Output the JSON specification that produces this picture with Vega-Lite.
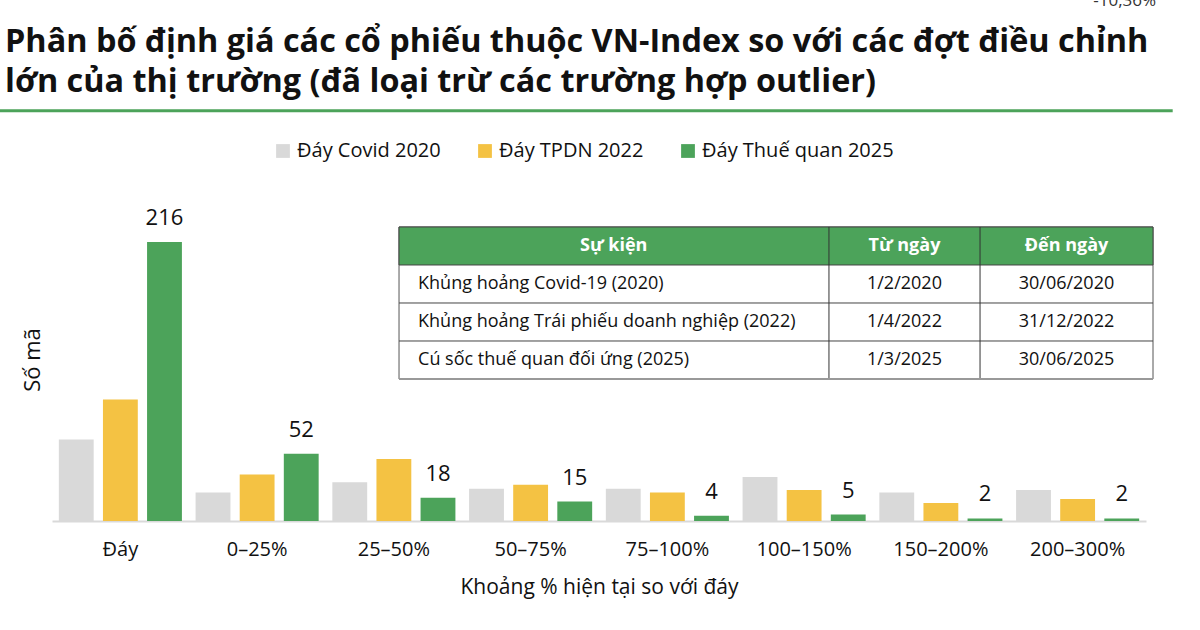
{
  "$schema": "https://vega.github.io/schema/vega-lite/v6.json",
  "width": 1094,
  "height": 323,
  "autosize": {"type": "none"},
  "padding": {"left": 52, "top": 198, "right": 54, "bottom": 109},
  "background": "white",
  "config": {
    "view": {"stroke": null},
    "font": "Open Sans"
  },
  "title": {
    "text": [
      "Phân bố định giá các cổ phiếu thuộc VN-Index so với các đợt điều chỉnh",
      "lớn của thị trường (đã loại trừ các trường hợp outlier)"
    ],
    "anchor": "start",
    "frame": "group",
    "fontSize": 32.4,
    "fontWeight": "bold",
    "color": "#111111",
    "lineHeight": 40,
    "offset": 0,
    "dx": -47,
    "dy": 107
  },
  "datasets": {
    "bars": [
      {"khoang": "Đáy", "dot": "Đáy Covid 2020", "so_ma": 63},
      {"khoang": "Đáy", "dot": "Đáy TPDN 2022", "so_ma": 94},
      {"khoang": "Đáy", "dot": "Đáy Thuế quan 2025", "so_ma": 216},
      {"khoang": "0–25%", "dot": "Đáy Covid 2020", "so_ma": 22},
      {"khoang": "0–25%", "dot": "Đáy TPDN 2022", "so_ma": 36},
      {"khoang": "0–25%", "dot": "Đáy Thuế quan 2025", "so_ma": 52},
      {"khoang": "25–50%", "dot": "Đáy Covid 2020", "so_ma": 30},
      {"khoang": "25–50%", "dot": "Đáy TPDN 2022", "so_ma": 48},
      {"khoang": "25–50%", "dot": "Đáy Thuế quan 2025", "so_ma": 18},
      {"khoang": "50–75%", "dot": "Đáy Covid 2020", "so_ma": 25},
      {"khoang": "50–75%", "dot": "Đáy TPDN 2022", "so_ma": 28},
      {"khoang": "50–75%", "dot": "Đáy Thuế quan 2025", "so_ma": 15},
      {"khoang": "75–100%", "dot": "Đáy Covid 2020", "so_ma": 25},
      {"khoang": "75–100%", "dot": "Đáy TPDN 2022", "so_ma": 22},
      {"khoang": "75–100%", "dot": "Đáy Thuế quan 2025", "so_ma": 4},
      {"khoang": "100–150%", "dot": "Đáy Covid 2020", "so_ma": 34},
      {"khoang": "100–150%", "dot": "Đáy TPDN 2022", "so_ma": 24},
      {"khoang": "100–150%", "dot": "Đáy Thuế quan 2025", "so_ma": 5},
      {"khoang": "150–200%", "dot": "Đáy Covid 2020", "so_ma": 22},
      {"khoang": "150–200%", "dot": "Đáy TPDN 2022", "so_ma": 14},
      {"khoang": "150–200%", "dot": "Đáy Thuế quan 2025", "so_ma": 2},
      {"khoang": "200–300%", "dot": "Đáy Covid 2020", "so_ma": 24},
      {"khoang": "200–300%", "dot": "Đáy TPDN 2022", "so_ma": 17},
      {"khoang": "200–300%", "dot": "Đáy Thuế quan 2025", "so_ma": 2}
    ],
    "bang": [
      {"hang": 0, "su_kien": "Sự kiện", "tu_ngay": "Từ ngày", "den_ngay": "Đến ngày"},
      {"hang": 1, "su_kien": "Khủng hoảng Covid-19 (2020)", "tu_ngay": "1/2/2020", "den_ngay": "30/06/2020"},
      {"hang": 2, "su_kien": "Khủng hoảng Trái phiếu doanh nghiệp (2022)", "tu_ngay": "1/4/2022", "den_ngay": "31/12/2022"},
      {"hang": 3, "su_kien": "Cú sốc thuế quan đối ứng (2025)", "tu_ngay": "1/3/2025", "den_ngay": "30/06/2025"}
    ],
    "ghi_chu": [
      {"nhan": "-10,36%"}
    ]
  },
  "layer": [
    {
      "data": {"name": "bars"},
      "encoding": {
        "x": {
          "field": "khoang",
          "type": "nominal",
          "sort": null,
          "scale": {
            "domain": ["Đáy", "0–25%", "25–50%", "50–75%", "75–100%", "100–150%", "150–200%", "200–300%"],
            "paddingInner": 0.1,
            "paddingOuter": 0.05
          },
          "title": "Khoảng % hiện tại so với đáy",
          "axis": {
            "labelAngle": 0,
            "labelFontSize": 20,
            "labelColor": "#111111",
            "labelPadding": 18,
            "ticks": false,
            "domainColor": "#d9d9d9",
            "domainWidth": 2,
            "titleFontSize": 21,
            "titleFontWeight": "normal",
            "titleColor": "#111111",
            "titlePadding": 17
          }
        },
        "xOffset": {
          "field": "dot",
          "type": "nominal",
          "scale": {
            "domain": ["Đáy Covid 2020", "Đáy TPDN 2022", "Đáy Thuế quan 2025"],
            "paddingInner": 0.21,
            "paddingOuter": 0
          }
        },
        "y": {
          "field": "so_ma",
          "type": "quantitative",
          "scale": {"domain": [0, 250], "nice": false},
          "title": "Số mã",
          "axis": {
            "domain": false,
            "ticks": false,
            "labels": false,
            "grid": false,
            "titleFontSize": 22,
            "titleFontWeight": "normal",
            "titleColor": "#111111",
            "titlePadding": 8
          }
        }
      },
      "layer": [
        {
          "mark": {"type": "bar"},
          "encoding": {
            "color": {
              "field": "dot",
              "type": "nominal",
              "scale": {
                "domain": ["Đáy Covid 2020", "Đáy TPDN 2022", "Đáy Thuế quan 2025"],
                "range": ["#d9d9d9", "#f4c243", "#4ca35a"]
              },
              "legend": {
                "title": null,
                "orient": "none",
                "direction": "horizontal",
                "legendX": 221,
                "legendY": -57,
                "symbolType": "square",
                "symbolSize": 190,
                "symbolStrokeWidth": 0,
                "labelFontSize": 20,
                "labelColor": "#111111",
                "labelOffset": 4,
                "labelLimit": 400,
                "columnPadding": 34
              }
            }
          }
        },
        {
          "transform": [{"filter": "datum.dot == 'Đáy Thuế quan 2025'"}],
          "mark": {"type": "text", "baseline": "alphabetic", "dy": -17, "fontSize": 22, "color": "#111111"},
          "encoding": {"text": {"field": "so_ma", "type": "quantitative"}}
        }
      ]
    },
    {
      "data": {"name": "bang"},
      "layer": [
        {
          "transform": [{"filter": "datum.hang == 0"}],
          "mark": {"type": "rect", "fill": "white", "stroke": "#555555", "strokeWidth": 1},
          "encoding": {
            "x": {"datum": 31.72, "type": "quantitative", "scale": {"domain": [0, 100], "nice": false, "zero": false}, "axis": null},
            "x2": {"datum": 100.64},
            "y": {"datum": -0.5, "type": "quantitative", "scale": {"domain": [-1.263, 7.237], "reverse": true, "nice": false, "zero": false}, "axis": null},
            "y2": {"datum": 3.5}
          }
        },
        {
          "transform": [{"filter": "datum.hang == 0"}],
          "mark": {"type": "rect", "fill": "#4ca35a", "stroke": "#444444", "strokeWidth": 1},
          "encoding": {
            "x": {"datum": 31.72, "type": "quantitative"},
            "x2": {"datum": 100.64},
            "y": {"datum": -0.5, "type": "quantitative"},
            "y2": {"datum": 0.5}
          }
        },
        {
          "transform": [{"filter": "datum.hang == 0"}],
          "mark": {"type": "rule", "stroke": "#444444", "strokeWidth": 1},
          "encoding": {
            "x": {"datum": 31.72, "type": "quantitative"},
            "x2": {"datum": 100.64},
            "y": {"datum": 1.5, "type": "quantitative"}
          }
        },
        {
          "transform": [{"filter": "datum.hang == 0"}],
          "mark": {"type": "rule", "stroke": "#444444", "strokeWidth": 1},
          "encoding": {
            "x": {"datum": 31.72, "type": "quantitative"},
            "x2": {"datum": 100.64},
            "y": {"datum": 2.5, "type": "quantitative"}
          }
        },
        {
          "transform": [{"filter": "datum.hang == 0"}],
          "mark": {"type": "rule", "stroke": "#333333", "strokeWidth": 1},
          "encoding": {
            "x": {"datum": 71.02, "type": "quantitative"},
            "y": {"datum": -0.5, "type": "quantitative"},
            "y2": {"datum": 3.5}
          }
        },
        {
          "transform": [{"filter": "datum.hang == 0"}],
          "mark": {"type": "rule", "stroke": "#333333", "strokeWidth": 1},
          "encoding": {
            "x": {"datum": 84.83, "type": "quantitative"},
            "y": {"datum": -0.5, "type": "quantitative"},
            "y2": {"datum": 3.5}
          }
        },
        {
          "transform": [{"filter": "datum.hang == 0"}],
          "mark": {"type": "rule", "stroke": "#999999", "strokeWidth": 2},
          "encoding": {
            "x": {"datum": 31.72, "type": "quantitative"},
            "x2": {"datum": 100.64},
            "y": {"datum": 3.5, "type": "quantitative"}
          }
        },
        {
          "transform": [{"filter": "datum.hang == 0"}],
          "mark": {"type": "text", "align": "center", "baseline": "middle", "fontSize": 18, "fontWeight": "bold", "color": "white"},
          "encoding": {
            "x": {"datum": 51.34, "type": "quantitative"},
            "y": {"field": "hang", "type": "quantitative"},
            "text": {"field": "su_kien"}
          }
        },
        {
          "transform": [{"filter": "datum.hang == 0"}],
          "mark": {"type": "text", "align": "center", "baseline": "middle", "fontSize": 18, "fontWeight": "bold", "color": "white"},
          "encoding": {
            "x": {"datum": 77.92, "type": "quantitative"},
            "y": {"field": "hang", "type": "quantitative"},
            "text": {"field": "tu_ngay"}
          }
        },
        {
          "transform": [{"filter": "datum.hang == 0"}],
          "mark": {"type": "text", "align": "center", "baseline": "middle", "fontSize": 18, "fontWeight": "bold", "color": "white"},
          "encoding": {
            "x": {"datum": 92.73, "type": "quantitative"},
            "y": {"field": "hang", "type": "quantitative"},
            "text": {"field": "den_ngay"}
          }
        },
        {
          "transform": [{"filter": "datum.hang > 0"}],
          "mark": {"type": "text", "align": "left", "baseline": "middle", "fontSize": 18, "color": "#111111"},
          "encoding": {
            "x": {"datum": 33.46, "type": "quantitative"},
            "y": {"field": "hang", "type": "quantitative"},
            "text": {"field": "su_kien"}
          }
        },
        {
          "transform": [{"filter": "datum.hang > 0"}],
          "mark": {"type": "text", "align": "center", "baseline": "middle", "fontSize": 18, "color": "#111111"},
          "encoding": {
            "x": {"datum": 77.92, "type": "quantitative"},
            "y": {"field": "hang", "type": "quantitative"},
            "text": {"field": "tu_ngay"}
          }
        },
        {
          "transform": [{"filter": "datum.hang > 0"}],
          "mark": {"type": "text", "align": "center", "baseline": "middle", "fontSize": 18, "color": "#111111"},
          "encoding": {
            "x": {"datum": 92.73, "type": "quantitative"},
            "y": {"field": "hang", "type": "quantitative"},
            "text": {"field": "den_ngay"}
          }
        },
        {
          "transform": [{"filter": "datum.hang == 0"}],
          "mark": {"type": "rule", "stroke": "#4ca35a", "strokeWidth": 3},
          "encoding": {
            "x": {"datum": -4.78, "type": "quantitative"},
            "x2": {"datum": 102.44},
            "y": {"datum": -3.56, "type": "quantitative"}
          }
        },
        {
          "data": {"name": "ghi_chu"},
          "mark": {"type": "text", "align": "center", "baseline": "alphabetic", "fontSize": 17, "color": "#333333"},
          "encoding": {
            "x": {"datum": 98.05, "type": "quantitative"},
            "y": {"datum": -6.32, "type": "quantitative"},
            "text": {"field": "nhan"}
          }
        }
      ]
    }
  ],
  "resolve": {"scale": {"x": "independent", "y": "independent"}}
}
